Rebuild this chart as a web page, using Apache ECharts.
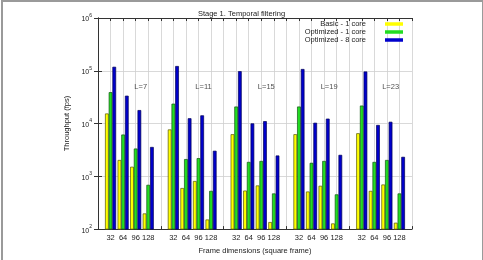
<!DOCTYPE html>
<html>
  <head>
    <meta charset="utf-8" />
    <title>Stage 1. Temporal filtering</title>
    <script src="https://cdn.jsdelivr.net/npm/echarts/dist/echarts.min.js"></script>
    <style>
      body { margin: 0; background: #fff; }
      #frame { position: absolute; left: 1px; top: 0; width: 479px; height: 262px; border: 2px solid #9a9a9a; pointer-events: none; }
    </style>
  </head>
  <body>
    <div id="main" style="width: 483px; height: 260px;"></div>
    <div id="frame"></div>

    <script type="text/javascript">
      var myChart = echarts.init(document.getElementById('main'));

      // frame sizes inside each group, and the filter lengths
      const sizes = ['32', '64', '96', '128'];
      const windows = ['L=7', 'L=11', 'L=15', 'L=19', 'L=23'];
      const windowLabelX = [3.4, 8.4, 13.4, 18.4, 23.3];
      const windowLabelY = 50000;

      // throughput (fps), 4 sizes per group, groups L=7 .. L=23
      const basic1 = [15500, 2040, 1520, 198,  7730, 600, 815, 152,  6280, 537, 671, 136,  6280, 515, 662, 128,  6550, 530, 700, 132];
      const opt1   = [39300, 6190, 3360, 690,  23800, 2120, 2210, 530,  21000, 1875, 1955, 474,  21000, 1800, 1955, 455,  21900, 1875, 2040, 474];
      const opt8   = [119000, 33700, 18000, 3600,  123000, 12600, 14300, 3050,  98200, 10070, 11100, 2480,  108000, 10350, 12400, 2550,  96900, 9400, 10800, 2340];

      const font = 'Liberation Sans, Arial, sans-serif';

      // position on the x axis: one slot per size, one empty slot between groups
      function toPoints(values) {
        return values.map((v, i) => [Math.floor(i / 4) * 5 + (i % 4) + 1, v]);
      }

      function barSeries(name, values, color, border) {
        return {
          name: name,
          type: 'bar',
          data: toPoints(values),
          barGap: '0%',
          barCategoryGap: '12%',
          itemStyle: { color: color, borderColor: border, borderWidth: 0.7 },
          clip: true
        };
      }

      const supMap = { 2: '2', 3: '3', 4: '4', 5: '5', 6: '6' };

      let option = {
        animation: false,
        textStyle: { fontFamily: font },
        title: {
          text: 'Stage 1. Temporal filtering',
          left: 'center',
          top: 5,
          textStyle: { fontSize: 7.5, fontWeight: 'normal', color: '#222', fontFamily: font }
        },
        legend: {
          orient: 'vertical',
          right: 80,
          top: 20,
          padding: 0,
          align: 'right',
          itemWidth: 18,
          itemHeight: 3.5,
          itemGap: 0,
          icon: 'rect',
          itemStyle: { borderWidth: 0 },
          textStyle: { fontSize: 7.5, color: '#222', fontFamily: font, width: 110, align: 'right', padding: [0, 14, 0, 0], lineHeight: 7 },
          data: ['Basic - 1 core', 'Optimized - 1 core', 'Optimized - 8 core']
        },
        grid: { left: 98, right: 71, top: 18, bottom: 21 },
        xAxis: [
          {
            type: 'value',
            min: 0,
            max: 25,
            interval: 1,
            name: 'Frame dimensions (square frame)',
            nameLocation: 'middle',
            nameGap: 16,
            nameTextStyle: { fontSize: 7.5, color: '#222', fontFamily: font },
            axisLine: { lineStyle: { color: '#333', width: 1 } },
            axisTick: { inside: true, length: 3, lineStyle: { color: '#333' } },
            axisLabel: {
              fontSize: 7.5,
              color: '#222',
              margin: 5,
              formatter: function (v) {
                const k = v % 5;
                return k === 0 ? '' : sizes[k - 1];
              }
            },
            splitLine: { show: true, lineStyle: { color: '#cfcfcf', width: 0.8 } }
          },
          {
            type: 'value',
            position: 'top',
            min: 0,
            max: 25,
            interval: 1,
            axisLine: { lineStyle: { color: '#333', width: 1 } },
            axisTick: { inside: true, length: 3, lineStyle: { color: '#333' } },
            axisLabel: { show: false },
            splitLine: { show: false }
          }
        ],
        yAxis: [
          {
            type: 'log',
            min: 100,
            max: 1000000,
            logBase: 10,
            name: 'Throughput (fps)',
            nameLocation: 'middle',
            nameGap: 22,
            nameTextStyle: { fontSize: 7.5, color: '#222', fontFamily: font },
            axisLine: { show: true, lineStyle: { color: '#333', width: 1 } },
            axisTick: { inside: true, length: 4, lineStyle: { color: '#333' } },
            axisLabel: {
              margin: 6,
              formatter: function (v) {
                const e = Math.round(Math.log10(v));
                return '{b|10}{s|' + supMap[e] + '}';
              },
              rich: {
                b: { fontSize: 7, color: '#222', fontFamily: font, padding: [3, 0, 0, 0] },
                s: { fontSize: 5, color: '#222', fontFamily: font, verticalAlign: 'top', padding: [0, 0, 3, 0] }
              }
            },
            splitLine: { show: true, lineStyle: { color: '#cfcfcf', width: 0.8 } }
          },
          {
            type: 'log',
            min: 100,
            max: 1000000,
            logBase: 10,
            position: 'right',
            axisLine: { show: true, lineStyle: { color: '#333', width: 1 } },
            axisTick: { inside: true, length: 4, lineStyle: { color: '#333' } },
            axisLabel: { show: false },
            splitLine: { show: false }
          }
        ],
        series: [
          barSeries('Basic - 1 core', basic1, '#ffff00', '#555500'),
          barSeries('Optimized - 1 core', opt1, '#22dd22', '#115511'),
          barSeries('Optimized - 8 core', opt8, '#0000cc', '#000055'),
          {
            type: 'scatter',
            symbolSize: 0,
            silent: true,
            data: windows.map((w, i) => ({ name: w, value: [windowLabelX[i], windowLabelY] })),
            label: { show: true, position: 'inside', formatter: '{b}', fontSize: 7.5, color: '#222', fontFamily: font }
          }
        ]
      };

      myChart.setOption(option);
    </script>
  </body>
</html>
